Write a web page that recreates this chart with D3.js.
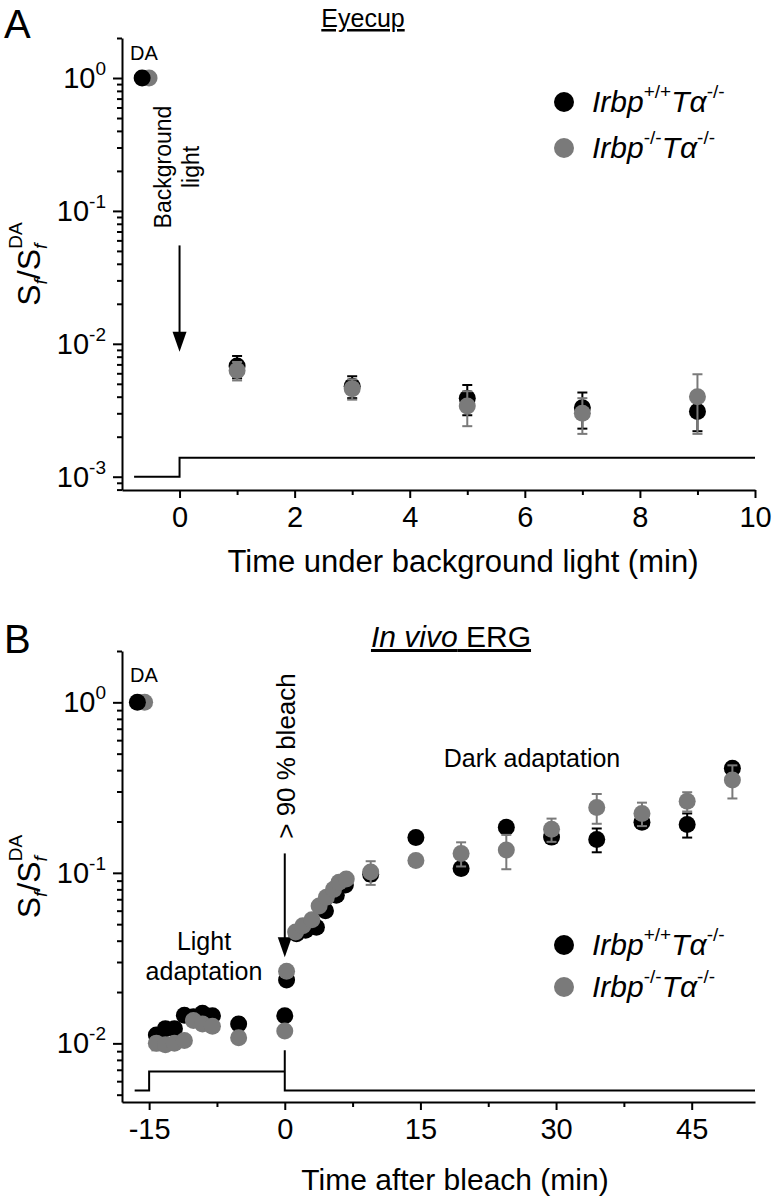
<!DOCTYPE html>
<html>
<head>
<meta charset="utf-8">
<script src="https://cdn.jsdelivr.net/npm/d3@7"></script>
<style>
  body { margin: 0; background: #fff; }
  svg { font-family: "Liberation Sans", Arial, sans-serif; }
</style>
</head>
<body>
<script>
/*------------------------------------- DATA -------------------------------------*/

// Panel A: eyecup, time under background light (min)
const A_TIME = [1, 3, 5, 7, 9];
const A_WT = [0.0068, 0.0048, 0.0039, 0.0033, 0.0031];
const A_WT_SEM = [0.0013, 0.0009, 0.0010, 0.0010, 0.0009];
const A_KO = [0.0063, 0.0046, 0.0034, 0.0030, 0.0040];
const A_KO_SEM = [0.0010, 0.0008, 0.0010, 0.0009, 0.0019];
const A_DA_TIME = [-0.65, -0.53];          // black, grey
const A_STEP_TIME = [-0.79, 0, 0, 10];
const A_STEP_LEVEL = [0.001, 0.001, 0.00139, 0.00139];
const A_X_TICKS = [0, 2, 4, 6, 8, 10];
const A_X_MINOR = [1, 3, 5, 7, 9];

// Panel B: in vivo ERG, time after bleach (min)
const B_WT_TIME = [-14.2, -13.2, -12.2, -11.1, -10.1, -9.1, -8.0, -5.1, 0, 0.2,
  1.3, 2.3, 3.5, 4.5, 5.7, 6.7, 9.5, 14.5, 19.5, 24.5, 29.5, 34.5, 39.5, 44.5, 49.5];
const B_WT = [0.0112, 0.0122, 0.0122, 0.0146, 0.0143, 0.0150, 0.0145, 0.0130, 0.0145, 0.0235,
  0.044, 0.046, 0.048, 0.060, 0.074, 0.085, 0.098, 0.161, 0.106, 0.185, 0.162, 0.157, 0.198, 0.192, 0.41];
const B_WT_SEM = [0.0008, 0.0008, 0.0008, 0.0008, 0.0008, 0.0008, 0.0008, 0.0008, 0.0008, 0.0015,
  0.003, 0.003, 0.003, 0.004, 0.004, 0.004, 0.008, 0.012, 0.008, 0.012, 0.012, 0.025, 0.015, 0.031, 0.03];
const B_KO_TIME = [-14.2, -13.2, -12.2, -11.1, -10.1, -9.1, -8.0, -5.1, 0, 0.2,
  1.2, 2.0, 3.0, 3.8, 4.6, 5.4, 6.0, 6.8, 9.5, 14.5, 19.5, 24.5, 29.5, 34.5, 39.5, 44.5, 49.5];
const B_KO = [0.0100, 0.0098, 0.0100, 0.0104, 0.0136, 0.0130, 0.0126, 0.0108, 0.0118, 0.0265,
  0.045, 0.049, 0.053, 0.064, 0.072, 0.080, 0.088, 0.092, 0.101, 0.118, 0.130, 0.136, 0.180, 0.242, 0.223, 0.263, 0.35];
const B_KO_SEM = [0.0009, 0.0007, 0.0007, 0.0007, 0.0008, 0.0010, 0.0008, 0.0007, 0.0007, 0.0012,
  0.003, 0.003, 0.003, 0.003, 0.004, 0.004, 0.004, 0.004, 0.016, 0.008, 0.021, 0.031, 0.028, 0.048, 0.035, 0.034, 0.077];
const B_DA_TIME = [-16.3, -15.5];          // black, grey
const B_STEP_TIME = [-16.6, -15, -15, 0, 0, 0, 52];
const B_STEP_LEVEL = [0.0053, 0.0053, 0.00685, 0.00685, 0.0091, 0.0053, 0.0053];
const B_X_TICKS = [-15, 0, 15, 30, 45];
const B_X_MINOR = [-7.5, 7.5, 22.5, 37.5];

const Y_MAJOR = [1, 0.1, 0.01, 0.001];
const LEGEND_SUP = ["+/+", "-/-"];

/*------------------------------------- SETUP -------------------------------------*/

const BLACK = "#000";
const GREY = "#7a7a7a";
const R = 8.5;

const svg = d3.select("body").append("svg")
  .attr("width", 777).attr("height", 1199);

const zip = (t, v, s) => t.map((d, i) => ({ t: d, v: v[i], s: s ? s[i] : 0 }));

function drawPanel(cfg) {
  const g = svg.append("g");
  const x = d3.scaleLinear().domain(cfg.xDomain).range([122, 755]);
  const y = d3.scaleLog().domain(cfg.yDomain).range([cfg.top, cfg.bottom]);

  // panel letter + title
  g.append("text").attr("x", 4).attr("y", cfg.letterY)
    .attr("font-size", 40).text(cfg.letter);

  const title = g.append("text").attr("x", cfg.titleX).attr("y", cfg.titleY)
    .attr("font-size", cfg.titleSize).attr("text-anchor", "middle")
    .attr("text-decoration", "underline");
  cfg.title.forEach(p => title.append("tspan")
    .attr("font-style", p.italic ? "italic" : null).text(p.text));

  // step stimulus trace
  const step = zip(cfg.stepT, cfg.stepV);
  g.append("path").datum(step)
    .attr("fill", "none").attr("stroke", BLACK).attr("stroke-width", 2)
    .attr("d", d3.line().x(d => x(d.t)).y(d => y(d.v)));

  // axes
  const xAxis = g.append("g").attr("transform", `translate(0,${cfg.bottom})`)
    .call(d3.axisBottom(x).tickValues(cfg.xTicks).tickSize(8).tickSizeOuter(0).tickPadding(8));
  g.append("g").attr("transform", `translate(0,${cfg.bottom})`)
    .call(d3.axisBottom(x).tickValues(cfg.xMinor).tickSize(5).tickFormat(""))
    .select(".domain").remove();
  xAxis.selectAll("text").attr("font-size", 29).attr("font-family", null).attr("fill", BLACK);
  xAxis.selectAll("text").text(d => d < 0 ? "-" + Math.abs(d) : d);

  const majors = Y_MAJOR.filter(v => v >= cfg.yDomain[1]);
  g.append("g").attr("transform", "translate(122,0)")
    .call(d3.axisLeft(y).tickValues(majors).tickSize(9).tickSizeOuter(0).tickFormat(""));
  const minor = y.ticks().filter(v => !Y_MAJOR.includes(v));
  g.append("g").attr("transform", "translate(122,0)")
    .call(d3.axisLeft(y).tickValues(minor).tickSize(5).tickFormat(""))
    .select(".domain").remove();

  g.selectAll(".domain, .tick line").attr("stroke", BLACK).attr("stroke-width", 2);

  majors.forEach(v => {
    const e = Math.round(Math.log10(v));
    const t = g.append("text").attr("x", 106).attr("y", y(v) + 10)
      .attr("text-anchor", "end").attr("font-size", 29);
    t.append("tspan").text("10");
    t.append("tspan").attr("font-size", 19).attr("dy", -13).text(e === 0 ? "0" : "-" + Math.abs(e));
  });

  // axis titles
  g.append("text").attr("x", cfg.xLabelX).attr("y", cfg.xLabelY)
    .attr("text-anchor", "middle").attr("font-size", cfg.xLabelSize).text(cfg.xLabel);

  const yl = g.append("text")
    .attr("transform", `translate(40,${(cfg.top + cfg.bottom) / 2}) rotate(-90)`)
    .attr("text-anchor", "middle").attr("font-size", 32);
  yl.append("tspan").text("S");
  yl.append("tspan").attr("font-size", 19).attr("font-style", "italic").attr("dy", 7).text("f");
  yl.append("tspan").attr("dy", -7).text("/S");
  yl.append("tspan").attr("font-size", 19).attr("font-style", "italic").attr("dy", 7).text("f");
  yl.append("tspan").attr("font-size", 19).attr("dx", -5).attr("dy", -25).text("DA");

  // annotations
  g.append("text").attr("x", 130).attr("y", cfg.daLabelY).attr("font-size", 20).text("DA");

  const ax = x(0);
  g.append("line").attr("x1", ax).attr("x2", ax)
    .attr("y1", y(cfg.arrow[0])).attr("y2", y(cfg.arrow[1]) - 18)
    .attr("stroke", BLACK).attr("stroke-width", 2);
  g.append("path")
    .attr("d", `M${ax - 7},${y(cfg.arrow[1]) - 20}L${ax + 7},${y(cfg.arrow[1]) - 20}L${ax},${y(cfg.arrow[1])}Z`)
    .attr("fill", BLACK);

  cfg.notes.forEach(n => {
    g.append("text")
      .attr("transform", `translate(${n.x},${n.y})` + (n.rotate ? " rotate(-90)" : ""))
      .attr("text-anchor", "middle").attr("font-size", n.size).text(n.text);
  });

  // DA points (grey behind black)
  g.append("circle").attr("cx", x(cfg.daT[1])).attr("cy", y(1)).attr("r", R).attr("fill", GREY);
  g.append("circle").attr("cx", x(cfg.daT[0])).attr("cy", y(1)).attr("r", R).attr("fill", BLACK);

  // series with SEM bars
  cfg.series.forEach(s => {
    const sg = g.append("g");
    const pts = sg.selectAll("g").data(s.data).join("g");
    pts.append("line")
      .attr("x1", d => x(d.t)).attr("x2", d => x(d.t))
      .attr("y1", d => y(d.v + d.s)).attr("y2", d => y(d.v - d.s))
      .attr("stroke", s.color).attr("stroke-width", 2);
    [1, -1].forEach(k => pts.append("line")
      .attr("x1", d => x(d.t) - 5).attr("x2", d => x(d.t) + 5)
      .attr("y1", d => y(d.v + k * d.s)).attr("y2", d => y(d.v + k * d.s))
      .attr("stroke", s.color).attr("stroke-width", 2));
    pts.append("circle").attr("cx", d => x(d.t)).attr("cy", d => y(d.v))
      .attr("r", R).attr("fill", s.color);
  });

  // legend
  [BLACK, GREY].forEach((c, i) => {
    const ly = cfg.legendY + i * cfg.legendGap;
    g.append("circle").attr("cx", 564).attr("cy", ly).attr("r", 10).attr("fill", c);
    const t = g.append("text").attr("x", 592).attr("y", ly + 10).attr("font-size", 30);
    t.append("tspan").attr("font-style", "italic").text("Irbp");
    t.append("tspan").attr("font-size", 19).attr("dy", -14).text(LEGEND_SUP[i]);
    t.append("tspan").attr("font-style", "italic").attr("dy", 14).text("T");
    t.append("tspan").attr("font-style", "italic").text("\u03b1");
    t.append("tspan").attr("font-size", 19).attr("dy", -14).text("-/-");
  });
}

drawPanel({
  letter: "A", letterY: 38,
  title: [{ text: "Eyecup" }], titleX: 363, titleY: 27, titleSize: 25,
  xDomain: [-1, 10], yDomain: [2, Math.pow(10, -3.1)], top: 38, bottom: 490,
  xTicks: A_X_TICKS, xMinor: A_X_MINOR,
  xLabel: "Time under background light (min)", xLabelX: 463, xLabelY: 572, xLabelSize: 31,
  stepT: A_STEP_TIME, stepV: A_STEP_LEVEL,
  daT: A_DA_TIME, daLabelY: 60,
  arrow: [0.055, 0.0087],
  notes: [
    { text: "Background", x: 171, y: 167, size: 23, rotate: true },
    { text: "light", x: 199, y: 167, size: 23, rotate: true }
  ],
  series: [
    { color: BLACK, data: zip(A_TIME, A_WT, A_WT_SEM) },
    { color: GREY, data: zip(A_TIME, A_KO, A_KO_SEM) }
  ],
  legendY: 102, legendGap: 46
});

drawPanel({
  letter: "B", letterY: 653,
  title: [{ text: "In vivo", italic: true }, { text: " ERG" }], titleX: 451, titleY: 647, titleSize: 30,
  xDomain: [-18, 52], yDomain: [2, 0.00453], top: 651, bottom: 1102,
  xTicks: B_X_TICKS, xMinor: B_X_MINOR,
  xLabel: "Time after bleach (min)", xLabelX: 455, xLabelY: 1190, xLabelSize: 30,
  stepT: B_STEP_TIME, stepV: B_STEP_LEVEL,
  daT: B_DA_TIME, daLabelY: 682,
  arrow: [0.13, 0.032],
  notes: [
    { text: "> 90 % bleach", x: 295, y: 756, size: 26, rotate: true },
    { text: "Dark adaptation", x: 532, y: 767, size: 25 },
    { text: "Light", x: 204, y: 950, size: 25 },
    { text: "adaptation", x: 204, y: 980, size: 25 }
  ],
  series: [
    { color: BLACK, data: zip(B_WT_TIME, B_WT, B_WT_SEM) },
    { color: GREY, data: zip(B_KO_TIME, B_KO, B_KO_SEM) }
  ],
  legendY: 945, legendGap: 42
});
</script>
</body>
</html>
